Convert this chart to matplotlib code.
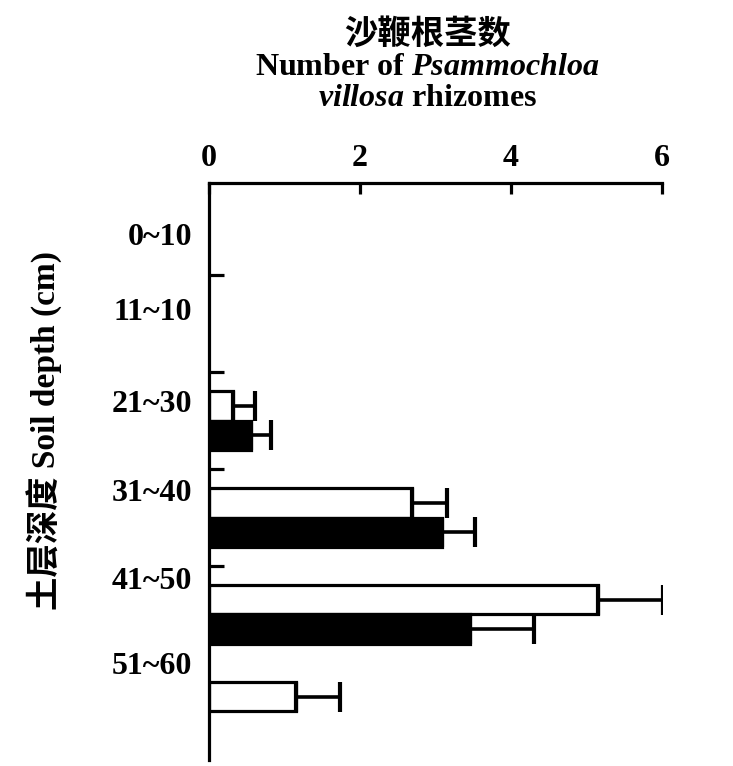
import numpy as np
import matplotlib
matplotlib.use('Agg')
import matplotlib.pyplot as plt

# depth classes (top to bottom) and rhizome counts
depths = ['0~10', '11~10', '21~30', '31~40', '41~50', '51~60']
white_vals = [0, 0, 0.32, 2.69, 5.15, 1.16]
white_err = [0, 0, 0.29, 0.46, 0.86, 0.58]
black_vals = [0, 0, 0.56, 3.09, 3.46, 0]
black_err = [0, 0, 0.26, 0.43, 0.84, 0]
x_ticks = [0, 2, 4, 6]

plt.rcParams['font.family'] = ['Liberation Serif', 'Noto Sans CJK SC']
plt.rcParams['font.weight'] = 'bold'
plt.rcParams['mathtext.fontset'] = 'custom'
plt.rcParams['mathtext.rm'] = 'Liberation Serif:bold'
plt.rcParams['mathtext.it'] = 'Liberation Serif:bold:italic'

fig = plt.figure(figsize=(7.33, 7.66), dpi=100)
ax = fig.add_axes([0.285, 0.008, 0.618, 0.753])

y = np.arange(len(depths))
h = 0.3
lw = 2.3
err_kw = dict(elinewidth=2.6, capsize=11, capthick=3.0, ecolor='black')

# one-sided error bars, drawn to the right only
w_nz = [i for i in range(len(depths)) if white_vals[i] > 0]
b_nz = [i for i in range(len(depths)) if black_vals[i] > 0]
ax.barh(y[w_nz] - h / 2, [white_vals[i] for i in w_nz], height=h, color='white',
        edgecolor='black', linewidth=lw,
        xerr=[[0] * len(w_nz), [white_err[i] for i in w_nz]], error_kw=err_kw)
ax.barh(y[b_nz] + h / 2, [black_vals[i] for i in b_nz], height=h, color='black',
        edgecolor='black', linewidth=lw,
        xerr=[[0] * len(b_nz), [black_err[i] for i in b_nz]], error_kw=err_kw)

ax.set_xlim(0, 6)
ax.set_ylim(5.5, -0.45)

ax.xaxis.tick_top()
ax.set_xticks(x_ticks)
ax.set_xticklabels([str(t) for t in x_ticks], fontsize=23)
ax.tick_params(axis='x', direction='in', length=8, width=lw, pad=7)

label_pos = [0.08, 0.85, 1.8, 2.72, 3.62, 4.5]
ax.set_yticks(label_pos)
ax.set_yticklabels(depths, fontsize=23)
ax.set_yticks(np.arange(0.5, len(depths) - 0.5, 1), minor=True)
ax.tick_params(axis='y', which='major', length=0, pad=12)
ax.tick_params(axis='y', which='minor', direction='in', length=11, width=lw)

for s in ['right', 'bottom']:
    ax.spines[s].set_visible(False)
for s in ['left', 'top']:
    ax.spines[s].set_linewidth(lw)

fig.text(0.583, 0.955, '沙鞭根茎数', ha='center', va='center', fontsize=24,
         family=['Noto Sans CJK SC'], weight='bold')
fig.text(0.583, 0.912, r'Number of $\mathit{Psammochloa}$', ha='center', va='center', fontsize=23)
fig.text(0.583, 0.872, r'$\mathit{villosa}$ rhizomes', ha='center', va='center', fontsize=23)

fig.text(0.062, 0.438, '土层深度 Soil depth (cm)', rotation=90, ha='center', va='center',
         fontsize=24, family=['Liberation Serif', 'Noto Sans CJK SC'])

plt.savefig('out.png', dpi=100)
plt.close()
